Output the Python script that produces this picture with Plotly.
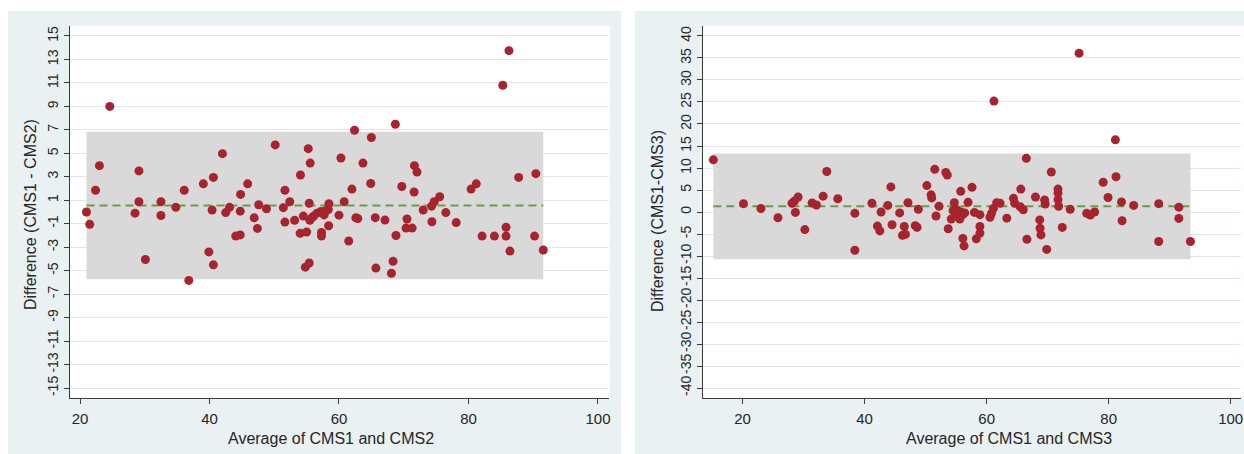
import plotly.graph_objects as go

# ---------------- data ----------------
left_x = [21.0, 21.5, 22.4, 23.0, 24.6, 28.5, 29.1, 29.1, 30.1, 32.5, 32.5, 34.8, 36.1, 36.8,
          39.05, 39.9, 40.4, 40.6, 40.6, 42.0, 42.5, 43.1, 44.05, 44.75, 44.75, 44.8, 45.9,
          46.9, 47.4, 47.6, 48.8, 50.15, 51.4, 51.65, 51.65, 52.4, 53.15, 54.05, 54.0, 54.5,
          55.0, 54.8, 55.4, 55.25, 55.4, 55.55, 55.5, 55.8, 56.1, 56.6, 57.2, 57.3, 57.3, 57.7,
          57.9, 58.35, 58.45, 58.4, 60.0, 60.8, 60.3, 61.5, 62.0, 62.4, 62.6, 62.9, 63.7, 65.0,
          64.9, 65.6, 65.7, 67.1, 68.1, 68.35, 68.7, 68.8, 69.7, 70.5, 70.35, 71.3, 71.6, 71.65,
          72.05, 73.0, 74.35, 74.3, 74.7, 75.55, 76.5, 78.1, 80.4, 81.2, 82.1, 84.0, 85.3, 85.8,
          85.8, 86.25, 86.4, 87.75, 90.2, 90.4, 91.55]
left_y = [0.0, -1.05, 1.85, 3.95, 9.0, -0.1, 3.5, 0.87, -4.05, 0.87, -0.3, 0.4, 1.85, -5.83,
          2.4, -3.4, 0.17, 2.95, -4.5, 4.97, -0.05, 0.4, -2.05, -1.95, 0.07, 1.5, 2.4,
          -0.5, -1.4, 0.62, 0.27, 5.72, 0.37, 1.85, -0.86, 0.87, -0.7, 3.15, -1.82, -0.35,
          -1.7, -4.7, -4.35, 5.4, 0.75, 4.17, -0.7, -0.5, -0.35, -0.1, 0.05, -1.75, -2.05, -0.25,
          0.1, 0.2, 0.7, -1.17, -0.27, 0.87, 4.6, -2.47, 1.95, 6.97, -0.5, -0.55, 4.17, 6.35,
          2.43, -0.48, -4.78, -0.69, -5.22, -4.2, 7.48, -2.0, 2.17, -0.6, -1.37, -1.37, 1.7, 3.95,
          3.4, 0.17, -0.83, 0.5, 0.87, 1.3, -0.05, -0.9, 1.95, 2.4, -2.05, -2.05, 10.8, -1.3,
          -2.05, 13.75, -3.33, 2.95, -2.05, 3.27, -3.24]
left_mean = 0.55
left_limits = [-5.74, 6.84]

right_x = [15.2, 20.15, 23.0, 25.8, 28.1, 28.5, 28.65, 29.1, 30.2, 31.4, 32.1, 33.2, 33.8, 35.6,
           38.4, 38.4, 41.2, 42.1, 42.5, 42.7, 43.8, 44.3, 44.5, 45.75, 46.2, 46.7, 46.5, 47.1,
           48.3, 48.6, 48.8, 50.2, 50.9, 51.0, 51.5, 51.7, 52.2, 53.3, 53.55, 53.7, 54.2, 54.5,
           54.7, 54.9, 55.1, 55.4, 55.6, 55.8, 55.75, 56.1, 56.4, 56.1, 56.3, 56.95, 57.6, 58.0,
           58.3, 58.9, 58.9, 58.9, 60.55, 60.8, 61.1, 61.2, 61.65, 62.2, 63.3, 64.4, 64.6, 65.5,
           65.6, 66.0, 66.5, 66.6, 68.0, 68.7, 68.75, 68.9, 69.5, 69.6, 69.85, 70.6, 71.7, 71.7,
           71.7, 71.8, 72.4, 73.7, 75.15, 76.4, 77.0, 77.7, 79.1, 79.9, 81.1, 81.2, 82.1, 82.2,
           84.1, 88.2, 88.2, 91.5, 91.5, 93.4]
right_y = [11.85, 1.9, 0.8, -1.3, 2.0, 2.5, -0.1, 3.4, -4.0, 2.05, 1.6, 3.6, 9.2, 3.0,
           -0.3, -8.7, 2.0, -3.2, -4.3, 0.0, 1.5, 5.7, -2.9, -0.2, -5.3, -5.1, -3.3, 2.1,
           -3.1, -3.5, 0.6, 6.0, 3.9, 3.2, 9.7, -0.9, 1.3, 9.0, 8.4, -3.8, -1.6, 0.3,
           2.1, -0.3, 0.5, -0.9, -1.6, 0.0, 4.7, -0.6, -0.2, -6.0, -7.7, 2.2, 5.6, -0.1,
           -6.1, -0.6, -3.3, -4.8, -1.2, -0.3, 0.8, 25.2, 2.1, 2.0, -1.4, 3.1, 2.0, 1.2,
           5.2, 0.5, 12.2, -6.2, 3.4, -1.8, -3.7, -5.2, 2.75, 1.8, -8.5, 9.1, 5.2, 4.3,
           2.8, 1.3, -3.5, 0.6, 36.1, -0.3, -0.7, 0.0, 6.75, 3.3, 16.4, 8.0, 2.3, -2.0,
           1.5, 1.9, -6.7, 1.1, -1.45, -6.7]
right_mean = 1.3
right_limits = [-10.75, 13.3]

x_ticks = [20, 40, 60, 80, 100]
left_y_ticks = list(range(-15, 16, 2))
right_y_ticks = list(range(-40, 41, 5))
left_y_ticktext = [str(v) for v in left_y_ticks]     # Stata-style hyphen minus
right_y_ticktext = [str(v) for v in right_y_ticks]

# ---------------- styling ----------------
W, H = 1244, 454
FONT = "Liberation Sans, Arial, sans-serif"
TXT = "#262626"
AX = "#3a3a3a"
GRID = "#dce8ec"
PANEL = "#e9f1f2"
BAND = "#d9d9d9"
DOT = "#a8232d"
MEANC = "#6e9a45"


def fx(p):
    return p / W


def fy(p):
    return 1 - p / H


fig = go.Figure()

panels = [
    dict(xs=left_x, ys=left_y, mean=left_mean, lim=left_limits, xa="x", ya="y"),
    dict(xs=right_x, ys=right_y, mean=right_mean, lim=right_limits, xa="x2", ya="y2"),
]

shapes = [
    # graph regions (light bluish) and white plot regions
    dict(type="rect", xref="paper", yref="paper", x0=fx(8), x1=fx(621), y0=0, y1=fy(11),
         fillcolor=PANEL, line=dict(width=0), layer="below"),
    dict(type="rect", xref="paper", yref="paper", x0=fx(635), x1=1, y0=0, y1=fy(11),
         fillcolor=PANEL, line=dict(width=0), layer="below"),
    dict(type="rect", xref="paper", yref="paper", x0=fx(70), x1=fx(610), y0=fy(398), y1=fy(26),
         fillcolor="white", line=dict(width=0), layer="below"),
    dict(type="rect", xref="paper", yref="paper", x0=fx(703), x1=1, y0=fy(398), y1=fy(26),
         fillcolor="white", line=dict(width=0), layer="below"),
]

for p in panels:
    xmin, xmax = min(p["xs"]), max(p["xs"])
    shapes.append(dict(type="rect", xref=p["xa"], yref=p["ya"], x0=xmin, x1=xmax,
                       y0=p["lim"][0], y1=p["lim"][1], fillcolor=BAND,
                       line=dict(width=0), layer="between"))
    fig.add_trace(go.Scatter(x=[xmin, xmax], y=[p["mean"], p["mean"]], mode="lines",
                             line=dict(color=MEANC, width=2, dash="8px,5px"),
                             xaxis=p["xa"], yaxis=p["ya"], hoverinfo="skip",
                             showlegend=False))
    fig.add_trace(go.Scatter(x=p["xs"], y=p["ys"], mode="markers",
                             marker=dict(color=DOT, size=9, line=dict(width=0)),
                             xaxis=p["xa"], yaxis=p["ya"], showlegend=False))

common_x = dict(showline=True, linecolor=AX, linewidth=1.3, ticks="outside", ticklen=5,
                tickwidth=1.2, tickcolor=AX, showgrid=False, zeroline=False,
                tickmode="array", tickvals=x_ticks, ticklabelstandoff=2,
                tickfont=dict(family=FONT, size=15, color=TXT), automargin=False)
common_y = dict(showline=True, linecolor=AX, linewidth=1.3, ticks="outside", ticklen=5,
                tickwidth=1.2, tickcolor=AX, showgrid=True, gridcolor=GRID, gridwidth=1,
                zeroline=False, tickmode="array", tickangle=-90,
                tickfont=dict(family=FONT, size=14, color=TXT), automargin=False)


def title(text, x, y, angle=0):
    return dict(text=text, xref="paper", yref="paper", x=fx(x), y=fy(y),
                xanchor="center", yanchor="middle", showarrow=False, textangle=angle,
                font=dict(family=FONT, size=16, color=TXT))


fig.update_layout(
    width=W, height=H,
    margin=dict(l=0, r=0, t=0, b=0),
    paper_bgcolor="white",
    plot_bgcolor="rgba(0,0,0,0)",
    showlegend=False,
    shapes=shapes,
    xaxis=dict(common_x, domain=[fx(70), fx(609)], range=[18.456, 101.7], anchor="y"),
    yaxis=dict(common_y, domain=[fy(398), fy(26)], range=[-15.85, 15.85], anchor="x",
               tickvals=left_y_ticks, ticktext=left_y_ticktext),
    xaxis2=dict(common_x, domain=[fx(703), fx(1241)], range=[13.51, 101.69], anchor="y2"),
    yaxis2=dict(common_y, domain=[fy(398), fy(26)], range=[-42.27, 42.27], anchor="x2",
                tickvals=right_y_ticks, ticktext=right_y_ticktext),
    annotations=[
        title("Average of CMS1 and CMS2", 331, 438),
        title("Average of CMS1 and CMS3", 1009, 438),
        title("Difference (CMS1 - CMS2)", 30, 215, -90),
        title("Difference (CMS1-CMS3)", 657, 221, -90),
    ],
)

fig.write_html(
    "out.html",
    config={"displayModeBar": False},
    post_script="document.body.style.margin='0px';document.body.style.overflow='hidden';",
)
